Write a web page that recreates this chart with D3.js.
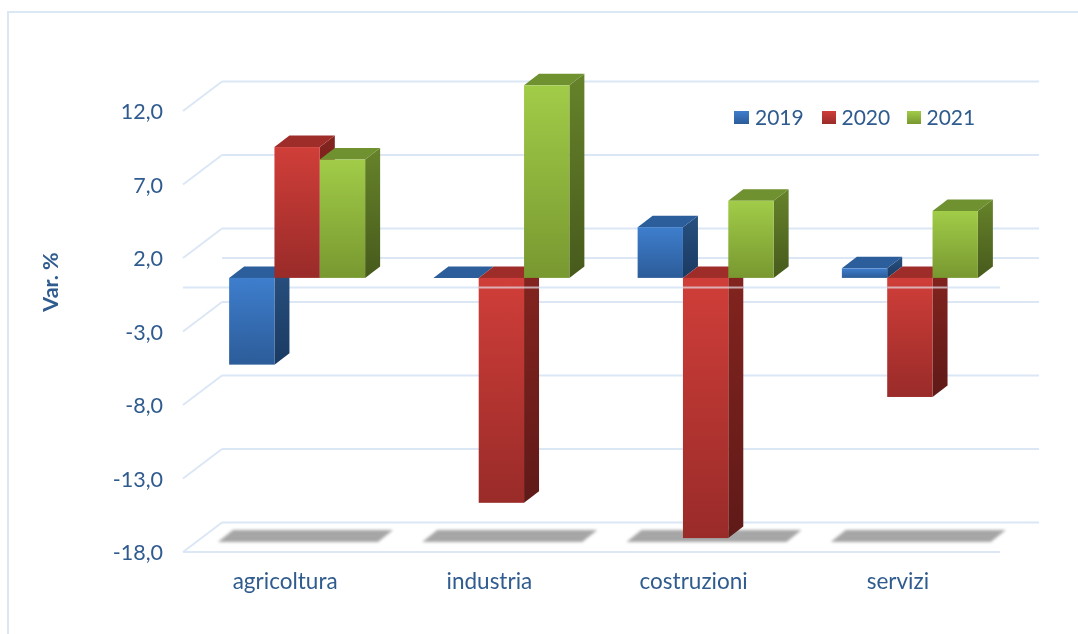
<!DOCTYPE html>
<html>
<head>
<meta charset="utf-8">
<script src="https://cdn.jsdelivr.net/npm/d3@7"></script>
<style>
  html, body { margin: 0; padding: 0; background: #fff; overflow: hidden; }
  svg { filter: blur(0.4px); }
  text { font-family: Lato, "Open Sans", sans-serif; fill: #2f5b8e; }
</style>
</head>
<body>
<div id="chart"></div>
<script>
// values
const categories = ["agricoltura", "industria", "costruzioni", "servizi"];
const years = ["2019", "2020", "2021"];
const values2019 = [-5.9, 0, 3.45, 0.65];
const values2020 = [8.9, -15.3, -17.7, -8.1];
const values2021 = [8.05, 13.1, 5.25, 4.55];
const yTicks = [12, 7, 2, -3, -8, -13, -18];

const seriesValues = [values2019, values2020, values2021];

// colours per year: front top, front bottom, side top, side bottom, lid
const palette = [
  ["#3e7ecd", "#2c5c99", "#28507f", "#1a3a62", "#2c5e9c"],
  ["#d03e39", "#992b29", "#84241f", "#5f1a18", "#9e2d2a"],
  ["#a1cc48", "#789830", "#66832a", "#475a1c", "#6f9130"]
];

const width = 1078, height = 634;
const left = 183, right = 1000;   // front edge of the floor
const wallDx = 39, wallDy = -29.5;  // front edge -> back wall
const barInsetX = 12, barInsetY = -9.5; // front edge -> bar front face
const depthX = 15, depthY = -11.5;  // bar depth

const svg = d3.select("#chart").append("svg")
  .attr("width", width)
  .attr("height", height)
  .style("display", "block");

const defs = svg.append("defs");
defs.append("filter").attr("id", "soft")
  .attr("x", "-10%").attr("y", "-50%").attr("width", "120%").attr("height", "200%")
  .append("feGaussianBlur").attr("stdDeviation", 1.6);

palette.forEach((c, i) => {
  [["front", c[0], c[1]], ["side", c[2], c[3]]].forEach(g => {
    const grad = defs.append("linearGradient")
      .attr("id", `${g[0]}${i}`)
      .attr("x1", 0).attr("x2", 0).attr("y1", 0).attr("y2", 1);
    grad.append("stop").attr("offset", 0).attr("stop-color", g[1]);
    grad.append("stop").attr("offset", 1).attr("stop-color", g[2]);
  });
});

const y = d3.scaleLinear().domain([-18, 12]).range([552, 111]);
const x0 = d3.scaleBand().domain(categories).range([left, right]);
const x1 = d3.scaleBand().domain(years).range([0, 136]);

const gridColor = "#dce7f5";

// chart frame, runs off the right and bottom of the shot
svg.append("rect")
  .attr("x", 8).attr("y", 12)
  .attr("width", width + 20).attr("height", height + 20)
  .attr("fill", "none")
  .attr("stroke", gridColor)
  .attr("stroke-width", 2);

// back wall lines and the slanted ticks
const grid = svg.append("g").attr("fill", "none").attr("stroke", gridColor).attr("stroke-width", 2);
grid.selectAll(".back")
  .data(yTicks.concat([0]))
  .enter()
  .append("line")
  .attr("x1", left + wallDx)
  .attr("x2", right + wallDx)
  .attr("y1", d => y(d) + wallDy)
  .attr("y2", d => y(d) + wallDy);
grid.selectAll(".slant")
  .data(yTicks)
  .enter()
  .append("line")
  .attr("x1", left)
  .attr("x2", left + wallDx)
  .attr("y1", d => y(d))
  .attr("y2", d => y(d) + wallDy);
// floor front edge and zero line
grid.selectAll(".front")
  .data([-18, 0])
  .enter()
  .append("line")
  .attr("x1", left)
  .attr("x2", right)
  .attr("y1", d => y(d))
  .attr("y2", d => y(d));

// shadows lying on the floor
const shadowLine = d3.line();
svg.append("g")
  .attr("filter", "url(#soft)")
  .selectAll("path")
  .data(categories)
  .enter()
  .append("path")
  .attr("fill", "#a6a6a6")
  .attr("d", d => {
    const s = x0(d) + 35;
    const front = y(-18) - 10, back = y(-18) - 22;
    return shadowLine([[s, front], [s + 160, front], [s + 175, back], [s + 15, back]]) + "Z";
  });

// bars, left to right so each one covers the side of the previous
const bars = svg.append("g");
const barWidth = x1.bandwidth();
categories.forEach((cat, c) => {
  years.forEach((year, s) => {
    const v = seriesValues[s][c];
    const bx = x0(cat) + (x0.bandwidth() - 136) / 2 + barInsetX + x1(year);
    const top = y(Math.max(v, 0)) + barInsetY;
    const bottom = y(Math.min(v, 0)) + barInsetY;
    const g = bars.append("g").attr("class", "bar");

    if (bottom > top) {
      g.append("path")
        .attr("fill", `url(#side${s})`)
        .attr("d", shadowLine([
          [bx + barWidth, top],
          [bx + barWidth + depthX, top + depthY],
          [bx + barWidth + depthX, bottom + depthY],
          [bx + barWidth, bottom]
        ]) + "Z");
    }
    g.append("path")
      .attr("fill", palette[s][4])
      .attr("d", shadowLine([
        [bx, top],
        [bx + depthX, top + depthY],
        [bx + barWidth + depthX, top + depthY],
        [bx + barWidth, top]
      ]) + "Z");
    if (bottom > top) {
      g.append("rect")
        .attr("x", bx)
        .attr("y", top)
        .attr("width", barWidth)
        .attr("height", bottom - top)
        .attr("fill", `url(#front${s})`);
    }
    // the zero line shows through the 2020 bars
    if (year === "2020" && v < 0) {
      g.append("line")
        .attr("x1", bx)
        .attr("x2", bx + barWidth + depthX)
        .attr("y1", y(0))
        .attr("y2", y(0))
        .attr("stroke", "#e3dfe8")
        .attr("stroke-opacity", 0.7)
        .attr("stroke-width", 2);
    }
  });
});

// axes
const yAxis = d3.axisLeft(y)
  .tickValues(yTicks)
  .tickSize(0)
  .tickPadding(0)
  .tickFormat(d => d3.format(".1f")(d).replace(".", ",").replace("−", "-"));
svg.append("g")
  .attr("transform", "translate(163,0)")
  .call(yAxis)
  .call(g => g.select(".domain").remove())
  .selectAll("text")
  .attr("dy", "0.36em")
  .style("font-size", "21.5px");

const xAxis = d3.axisBottom(x0).tickSize(0).tickPadding(0);
svg.append("g")
  .attr("transform", "translate(0,573)")
  .call(xAxis)
  .call(g => g.select(".domain").remove())
  .selectAll("text")
  .attr("dy", "0.71em")
  .style("font-size", "22.5px");

svg.append("text")
  .attr("transform", "translate(57.5,282) rotate(-90)")
  .attr("text-anchor", "middle")
  .style("font-size", "21.5px")
  .style("font-weight", "bold")
  .text("Var. %");

// legend
const legendX = d3.scaleOrdinal().domain(years).range([734, 822, 907]);
const legend = svg.selectAll(".legend")
  .data(years)
  .enter()
  .append("g")
  .attr("class", "legend")
  .attr("transform", d => `translate(${legendX(d)},0)`);
legend.append("rect")
  .attr("y", 111)
  .attr("width", (d, i) => (i === 0 ? 15 : 14))
  .attr("height", 13)
  .attr("fill", (d, i) => `url(#front${i})`);
legend.append("text")
  .attr("x", (d, i) => (i === 0 ? 21 : 19.5))
  .attr("y", 124.5)
  .style("font-size", "21px")
  .text(d => d);
</script>
</body>
</html>
